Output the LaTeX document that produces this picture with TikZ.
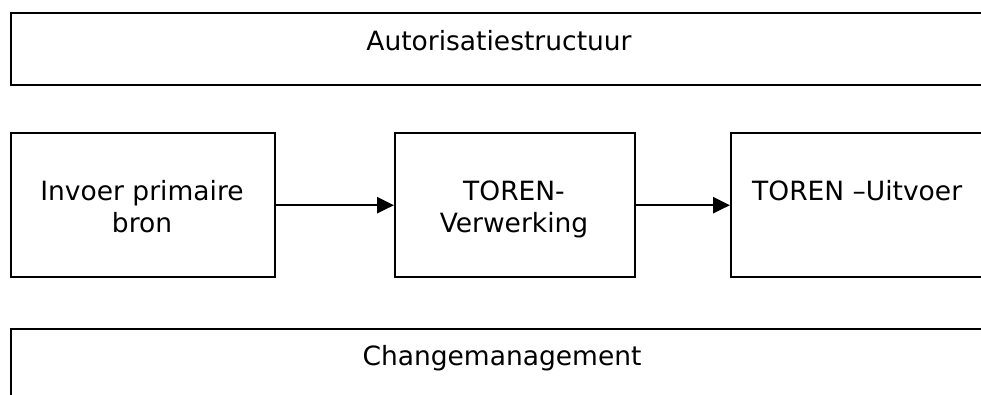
\documentclass[tikz,border=0pt]{standalone}
\usepackage{fontspec}
\setmainfont{DejaVu Sans}
\usetikzlibrary{arrows.meta}
\begin{document}
\begin{tikzpicture}[x=1pt,y=-1pt,
  box/.style={draw,line width=2.4pt,inner sep=0pt,anchor=north west},
  lbl/.style={font=\fontsize{26.5}{32}\selectfont,inner sep=0pt,align=center},
  arr/.style={line width=2.4pt,-{Triangle[length=17pt,width=16pt]}}]
\path[use as bounding box,clip] (0,0) rectangle (981,394);
\fill[white] (0,0) rectangle (981,394);
\node[box,minimum width=990pt,minimum height=72pt] (auth) at (10,12) {};
\node[box,minimum width=264pt,minimum height=144pt] (invoer) at (10,132) {};
\node[box,minimum width=240pt,minimum height=144pt] (verw) at (394,132) {};
\node[box,minimum width=300pt,minimum height=144pt] (uitv) at (730,132) {};
\node[box,minimum width=990pt,minimum height=100pt] (change) at (10,328) {};
\node[lbl,anchor=base] (tauth) at (499,50) {Autorisatiestructuur};
\node[lbl,anchor=base] (tinvoer) at (142,232) {Invoer primaire\\bron};
\node[lbl,anchor=base] (tverw) at (514,232) {TOREN-\\Verwerking};
\node[lbl,anchor=base west] (tuitv) at (752,200) {TOREN –Uitvoer};
\node[lbl,anchor=base] (tchange) at (502,365) {Changemanagement};
\draw[arr] (invoer.east) -- (verw.west);
\draw[arr] (verw.east) -- (uitv.west);
\end{tikzpicture}
\end{document}
